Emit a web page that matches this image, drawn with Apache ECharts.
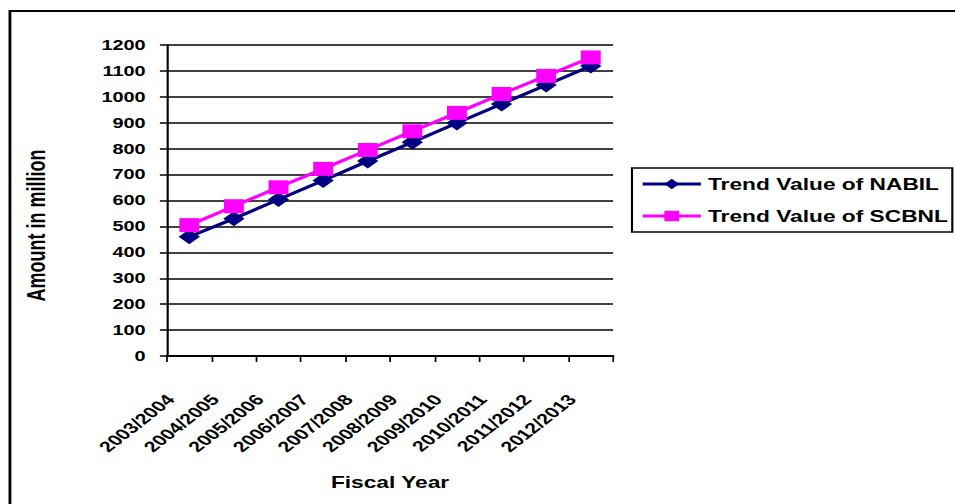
<!DOCTYPE html>
<html>
<head>
<meta charset="utf-8">
<script src="https://cdn.jsdelivr.net/npm/echarts@6/dist/echarts.min.js"></script>
<style>
  html, body { margin: 0; padding: 0; background: #fff; overflow: hidden; }
  /* The chart is laid out in a narrower frame and widened horizontally,
     which gives the broad letterforms and flattened markers of the original figure. */
  #chart {
    width: 672px;
    height: 504px;
    transform: scaleX(1.42113);
    transform-origin: 0 0;
  }
</style>
</head>
<body>
<div id="chart"></div>
<script>
// Fiscal years on the category axis
const fiscalYears = ['2003/2004', '2004/2005', '2005/2006', '2006/2007', '2007/2008',
                     '2008/2009', '2009/2010', '2010/2011', '2011/2012', '2012/2013'];
// Trend values (amount in million)
const nabilTrend = [460, 530, 604, 677, 752, 825, 899, 972, 1046, 1119];
const scbnlTrend = [505, 578, 651, 722, 795, 867, 938, 1011, 1081, 1152];
const seriesNames = ['Trend Value of NABIL', 'Trend Value of SCBNL'];

const font = 'Liberation Sans, Arial, sans-serif';
const chart = echarts.init(document.getElementById('chart'), null, { renderer: 'svg' });

chart.setOption({
  animation: false,
  backgroundColor: '#fff',
  graphic: [{
    type: 'rect',
    shape: { x: 7, y: 11, width: 700, height: 510 },
    style: { fill: 'none', stroke: '#000', lineWidth: 2 },
    silent: true
  }],
  grid: { left: 117.5, right: 240.6, top: 45, bottom: 148 },
  legend: {
    orient: 'vertical',
    left: 444.7,
    top: 168,
    padding: [8, 3, 8, 6],
    itemGap: 16,
    itemWidth: 41,
    itemHeight: 13,
    borderColor: '#000',
    borderWidth: 1.5,
    lineStyle: { width: 3 },
    textStyle: { fontFamily: font, fontWeight: 'bold', fontSize: 16, color: '#000' },
    data: seriesNames
  },
  xAxis: {
    type: 'category',
    data: fiscalYears,
    boundaryGap: true,
    name: 'Fiscal Year',
    nameLocation: 'middle',
    nameGap: 118,
    nameTextStyle: { fontFamily: font, fontWeight: 'bold', fontSize: 16, color: '#000' },
    axisLine: { lineStyle: { color: '#000', width: 2 } },
    axisTick: { show: true, length: 6, lineStyle: { color: '#000', width: 1.2 } },
    axisLabel: {
      rotate: 48,
      interval: 0,
      margin: 26,
      padding: [0, 20, 0, 0],
      fontFamily: font, fontWeight: 'bold', fontSize: 15, color: '#000'
    }
  },
  yAxis: {
    type: 'value',
    min: 0,
    max: 1200,
    interval: 100,
    name: 'Amount in million',
    nameLocation: 'middle',
    nameGap: 83,
    nameRotate: 90,
    nameTextStyle: { fontFamily: font, fontWeight: 'bold', fontSize: 18, color: '#000', padding: [0, 50, 0, 0] },
    axisLine: { show: true, lineStyle: { color: '#000', width: 1.5 } },
    axisTick: { show: true, length: 5, lineStyle: { color: '#000', width: 1.5 } },
    axisLabel: {
      margin: 15,
      formatter: value => String(value),
      fontFamily: font, fontWeight: 'bold', fontSize: 14, color: '#000'
    },
    splitLine: { show: true, lineStyle: { color: '#000', width: 1.5 } }
  },
  series: [
    {
      name: seriesNames[0],
      type: 'line',
      data: nabilTrend,
      symbol: 'diamond',
      symbolSize: 15,
      lineStyle: { color: '#000080', width: 3 },
      itemStyle: { color: '#000080' },
      z: 3
    },
    {
      name: seriesNames[1],
      type: 'line',
      data: scbnlTrend,
      symbol: 'rect',
      symbolSize: 14,
      lineStyle: { color: '#FF00FF', width: 3 },
      itemStyle: { color: '#FF00FF' },
      z: 4
    }
  ]
});
</script>
</body>
</html>
